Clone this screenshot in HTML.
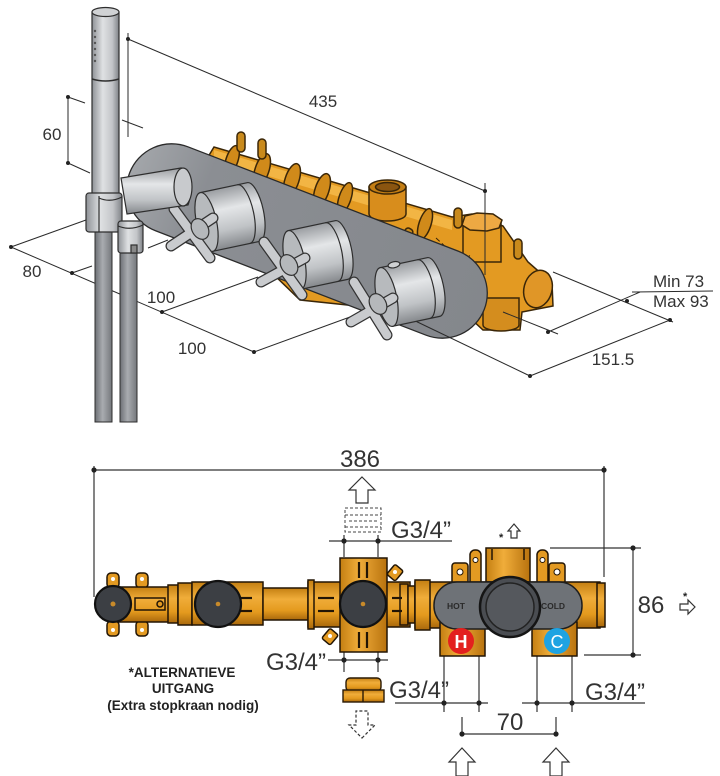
<!DOCTYPE html>
<html><head><meta charset="utf-8"><style>
html,body{margin:0;padding:0;background:#fff;}
svg{display:block;}
text{font-family:"Liberation Sans",Arial,sans-serif;}
</style></head><body>
<svg width="720" height="776" viewBox="0 0 720 776" xmlns="http://www.w3.org/2000/svg">
<defs>
<linearGradient id="chH" x1="0" x2="1" y1="0" y2="0">
<stop offset="0" stop-color="#8e9196"/><stop offset="0.4" stop-color="#dfe1e3"/><stop offset="0.75" stop-color="#c3c5c8"/><stop offset="1" stop-color="#7f8287"/></linearGradient>
<linearGradient id="chV" x1="0" x2="0" y1="0" y2="1">
<stop offset="0" stop-color="#9a9da1"/><stop offset="0.35" stop-color="#e4e6e8"/><stop offset="0.7" stop-color="#c0c3c6"/><stop offset="1" stop-color="#85888c"/></linearGradient>
<linearGradient id="hose" x1="0" x2="1" y1="0" y2="0">
<stop offset="0" stop-color="#6c6f74"/><stop offset="0.45" stop-color="#a9acb0"/><stop offset="1" stop-color="#74777b"/></linearGradient>
<linearGradient id="plate" x1="0" x2="1" y1="0" y2="0">
<stop offset="0" stop-color="#a3a6aa"/><stop offset="0.2" stop-color="#8b8e93"/><stop offset="1" stop-color="#84878c"/></linearGradient>
<linearGradient id="brV" x1="0" x2="0" y1="0" y2="1">
<stop offset="0" stop-color="#c47f12"/><stop offset="0.35" stop-color="#f0ad3a"/><stop offset="0.7" stop-color="#e49a1e"/><stop offset="1" stop-color="#a9680c"/></linearGradient>
<linearGradient id="brH" x1="0" x2="1" y1="0" y2="0">
<stop offset="0" stop-color="#c47f12"/><stop offset="0.4" stop-color="#f0ad3a"/><stop offset="1" stop-color="#b8720e"/></linearGradient>
</defs>

<!-- ============ TOP DRAWING ============ -->
<g stroke="#2a2a2a" stroke-width="1" fill="none">
<line x1="68" y1="97" x2="68" y2="163"/>
<line x1="68" y1="97" x2="85" y2="103"/>
<line x1="68" y1="163" x2="90" y2="173"/>
<line x1="11" y1="247" x2="254" y2="352"/>
<line x1="11" y1="247" x2="86" y2="220"/>
<line x1="72" y1="273" x2="92" y2="266"/>
<line x1="162" y1="312" x2="258" y2="277"/>
<line x1="254" y1="352" x2="350" y2="317"/>
<line x1="148" y1="248" x2="168" y2="240"/>
<line x1="530" y1="376" x2="670" y2="320"/>
<line x1="553" y1="272" x2="673" y2="322"/>
<line x1="548" y1="332" x2="640" y2="292"/>
<line x1="632" y1="292" x2="713" y2="291"/>
</g>
<g fill="#222">
<circle cx="68" cy="97" r="2"/><circle cx="68" cy="163" r="2"/>
<circle cx="11" cy="247" r="2"/><circle cx="72" cy="273" r="2"/><circle cx="162" cy="312" r="2"/><circle cx="254" cy="352" r="2"/>
<circle cx="530" cy="376" r="2"/><circle cx="670" cy="320" r="2"/><circle cx="548" cy="332" r="2"/><circle cx="627" cy="301" r="2"/>
</g>

<!-- brass body behind plate -->
<g stroke="#3a2608" stroke-width="1.5">
<path d="M205,162 L214,147 L452,217 L472,214 L503,226 L528,262 L552,283 L553,306 L522,312 L520,330 L483,330 L470,318 L300,300 L205,208 Z" fill="#e39a22"/>
<path d="M214,150 L452,220 L452,230 L214,160 Z" fill="#f2b544" stroke="none"/>
<g fill="#d08a1a">
<ellipse cx="232" cy="160" rx="6" ry="15" transform="rotate(18 232 160)"/>
<ellipse cx="262" cy="170" rx="7" ry="17" transform="rotate(18 262 170)"/>
<ellipse cx="292" cy="180" rx="7" ry="17" transform="rotate(18 292 180)"/>
<ellipse cx="322" cy="190" rx="7" ry="17" transform="rotate(18 322 190)"/>
<ellipse cx="345" cy="198" rx="6" ry="16" transform="rotate(18 345 198)"/>
<ellipse cx="425" cy="224" rx="6" ry="16" transform="rotate(18 425 224)"/>
</g>
<rect x="237" y="132" width="8" height="20" rx="4" fill="#c98a1c"/>
<rect x="258" y="139" width="8" height="20" rx="4" fill="#c98a1c"/>
<rect x="454" y="208" width="8" height="20" rx="4" fill="#c98a1c"/>
<rect x="514" y="239" width="8" height="20" rx="4" fill="#c98a1c"/>
<rect x="403" y="228" width="8" height="15" rx="3" fill="#c98a1c" transform="rotate(30 407 235)"/>
<rect x="420" y="240" width="8" height="18" rx="4" fill="#c98a1c"/>
<path d="M369,187 L369,214 A18.5,7 0 0 0 406,214 L406,187 Z" fill="#d88d1c"/>
<ellipse cx="387.5" cy="187" rx="18.5" ry="7" fill="#c47e14"/>
<ellipse cx="387.5" cy="187" rx="12" ry="4.5" fill="#8a5510"/>
<path d="M463,222 L463,262 L501,262 L501,222 Z" fill="#e39a22"/>
<path d="M465,216 L477,213 L493,214 L502,220 L499,228 L487,231 L470,230 L462,225 Z" fill="#eda943"/>
<ellipse cx="538" cy="289" rx="14" ry="19" fill="#e09627" transform="rotate(15 538 289)"/>
<path d="M483,298 L483,325 A18,6 0 0 0 519,325 L519,298 Z" fill="#d48d1e"/>
</g>
<g stroke="#3a2608" stroke-width="1" stroke-dasharray="5,3" fill="none">
<line x1="430" y1="246" x2="470" y2="256"/><line x1="436" y1="238" x2="462" y2="262"/>
</g>
<line x1="503" y1="312" x2="558" y2="334" stroke="#2a2a2a" stroke-width="1"/>

<!-- plate -->
<g transform="translate(307,241) rotate(21.1)">
<rect x="-190" y="-45" width="380" height="90" rx="45" fill="url(#plate)" stroke="#2a2a2a" stroke-width="1.3"/>
</g>
<line x1="407" y1="317" x2="530" y2="376" stroke="#2a2a2a" stroke-width="1"/>

<!-- 435 dim -->
<g stroke="#2a2a2a" stroke-width="1" fill="none">
<line x1="128" y1="39" x2="485" y2="191"/>
<line x1="128" y1="33" x2="128" y2="137"/>
<line x1="485" y1="183" x2="485" y2="275"/>
<line x1="122" y1="120" x2="143" y2="128"/>
</g>
<circle cx="128" cy="39" r="2" fill="#222"/><circle cx="485" cy="191" r="2" fill="#222"/>

<!-- knobs -->
<g stroke="#2e2e2e" stroke-width="1.2">
<g transform="translate(230,217) rotate(-12)">
<path d="M-24,-30 L24,-30 A10,30 0 0 1 24,30 L-24,30 Z" fill="url(#chV)"/>
<path d="M14,-30 A10,30 0 0 1 14,30" fill="none"/>
<ellipse cx="-24" cy="0" rx="10" ry="30" fill="#b7babd"/>
</g>
<g transform="translate(318,255) rotate(-12)">
<path d="M-24,-30 L24,-30 A10,30 0 0 1 24,30 L-24,30 Z" fill="url(#chV)"/>
<path d="M14,-30 A10,30 0 0 1 14,30" fill="none"/>
<ellipse cx="-24" cy="0" rx="10" ry="30" fill="#b7babd"/>
</g>
<g transform="translate(410,292) rotate(-12)">
<path d="M-24,-30 L24,-30 A10,30 0 0 1 24,30 L-24,30 Z" fill="url(#chV)"/>
<path d="M14,-30 A10,30 0 0 1 14,30" fill="none"/>
<ellipse cx="-24" cy="0" rx="10" ry="30" fill="#b7babd"/>
<ellipse cx="-10" cy="-30" rx="6" ry="3" fill="#cfd1d3"/>
</g>
</g>
<g stroke-linecap="round">
<g stroke="#333" stroke-width="11">
<line x1="174" y1="209" x2="210" y2="258"/><line x1="171" y1="246" x2="213" y2="218"/>
<line x1="264" y1="242" x2="302" y2="295"/><line x1="261" y1="282" x2="305" y2="258"/>
<line x1="354" y1="282" x2="387" y2="335"/><line x1="351" y1="322" x2="393" y2="298"/>
</g>
<g stroke="#c9cbce" stroke-width="8.5">
<line x1="174" y1="209" x2="210" y2="258"/><line x1="171" y1="246" x2="213" y2="218"/>
<line x1="264" y1="242" x2="302" y2="295"/><line x1="261" y1="282" x2="305" y2="258"/>
<line x1="354" y1="282" x2="387" y2="335"/><line x1="351" y1="322" x2="393" y2="298"/>
</g>
</g>
<g stroke="#333" stroke-width="1.2" fill="#b5b8bb">
<ellipse cx="200" cy="229" rx="8" ry="11" transform="rotate(-30 200 229)"/>
<ellipse cx="289" cy="265" rx="8" ry="11" transform="rotate(-30 289 265)"/>
<ellipse cx="378" cy="304" rx="8" ry="11" transform="rotate(-30 378 304)"/>
</g>

<!-- arm -->
<g stroke="#2e2e2e" stroke-width="1.2">
<path d="M121,178 L181,168 A9,22 0 0 1 188,205 L127,214 Z" fill="url(#chV)"/>
<ellipse cx="183" cy="187" rx="9" ry="19" fill="#c8cacd"/>
</g>

<!-- hoses -->
<g stroke="#2e2e2e" stroke-width="1">
<rect x="95" y="226" width="17" height="196" fill="url(#hose)"/>
<rect x="120" y="250" width="17" height="172" fill="url(#hose)"/>
</g>

<!-- hand shower -->
<g stroke="#2e2e2e" stroke-width="1.2">
<rect x="92" y="12" width="27" height="186" fill="url(#chH)"/>
<ellipse cx="105.5" cy="12" rx="13.5" ry="4.5" fill="#d0d2d4"/>
<path d="M92,79 Q105.5,83 119,79" fill="none" stroke-width="1.6"/>
</g>
<g fill="#555">
<circle cx="95" cy="31" r="1.2"/><circle cx="95" cy="37" r="1.2"/><circle cx="95" cy="43" r="1.2"/><circle cx="95" cy="49" r="1.2"/><circle cx="95" cy="55" r="1.2"/><circle cx="95" cy="61" r="1.2"/>
</g>
<g stroke="#2e2e2e" stroke-width="1.2">
<rect x="86" y="193" width="36" height="39" rx="3" fill="url(#chH)"/>
<line x1="99" y1="196" x2="99" y2="232"/>
<path d="M99,198 Q110,203 122,197" fill="none"/>
<rect x="118" y="221" width="25" height="32" rx="3" fill="url(#chH)"/>
<path d="M118,226 Q130,231 143,225" fill="none"/>
<rect x="131" y="245" width="6" height="8" fill="#888"/>
</g>

<!-- top labels -->
<g font-size="17" fill="#333" text-anchor="middle">
<text x="323" y="107">435</text>
<text x="52" y="140">60</text>
<text x="32" y="277">80</text>
<text x="161" y="303">100</text>
<text x="192" y="354">100</text>
<text x="613" y="365">151.5</text>
<text x="653" y="287" text-anchor="start">Min 73</text>
<text x="653" y="307" text-anchor="start">Max 93</text>
</g>

<!-- ============ BOTTOM DRAWING ============ -->
<g stroke="#333" stroke-width="1.2" fill="none">
<line x1="94" y1="470" x2="604" y2="470"/>
<line x1="94" y1="466" x2="94" y2="597"/>
<line x1="604" y1="466" x2="604" y2="577"/>
<line x1="329" y1="541" x2="452" y2="541"/>
<line x1="344" y1="535" x2="344" y2="557"/><line x1="378" y1="535" x2="378" y2="557"/>
<line x1="328" y1="660" x2="388" y2="660"/>
<line x1="344" y1="652" x2="344" y2="672"/><line x1="378" y1="652" x2="378" y2="672"/>
<line x1="395" y1="703" x2="488" y2="703"/>
<line x1="444" y1="656" x2="444" y2="712"/><line x1="479" y1="656" x2="479" y2="712"/>
<line x1="522" y1="703" x2="645" y2="703"/>
<line x1="537" y1="656" x2="537" y2="712"/><line x1="572" y1="656" x2="572" y2="712"/>
<line x1="633" y1="548" x2="633" y2="655"/>
<line x1="550" y1="548" x2="641" y2="548"/><line x1="584" y1="655" x2="641" y2="655"/>
<line x1="462" y1="734" x2="556" y2="734"/>
<line x1="462" y1="717" x2="462" y2="734"/><line x1="556" y1="717" x2="556" y2="734"/>
</g>
<g fill="#222">
<circle cx="94" cy="470" r="2.6"/><circle cx="604" cy="470" r="2.6"/>
<circle cx="344" cy="541" r="2.6"/><circle cx="378" cy="541" r="2.6"/>
<circle cx="344" cy="660" r="2.6"/><circle cx="378" cy="660" r="2.6"/>
<circle cx="444" cy="703" r="2.6"/><circle cx="479" cy="703" r="2.6"/>
<circle cx="537" cy="703" r="2.6"/><circle cx="572" cy="703" r="2.6"/>
<circle cx="633" cy="548" r="2.6"/><circle cx="633" cy="655" r="2.6"/>
<circle cx="462" cy="734" r="2.6"/><circle cx="556" cy="734" r="2.6"/>
</g>

<g fill="#fff" stroke="#333" stroke-width="1.2">
<path d="M362,477 L375,490 L368,490 L368,503 L356,503 L356,490 L349,490 Z"/>
<path d="M462,748 L475,762 L468,762 L468,776 L456,776 L456,762 L449,762 Z"/>
<path d="M556,748 L569,762 L562,762 L562,776 L550,776 L550,762 L543,762 Z"/>
<path d="M514,524 L520,531 L517,531 L517,538 L511,538 L511,531 L508,531 Z"/>
<path d="M695,607 L688,614 L688,610 L680,610 L680,604 L688,604 L688,600 Z"/>
</g>
<path d="M362,738 L375,725 L368,725 L368,711 L356,711 L356,725 L349,725 Z" fill="none" stroke="#333" stroke-width="1.2" stroke-dasharray="3,2"/>
<g font-size="11" fill="#222" font-weight="bold"><text x="499" y="541">*</text><text x="683" y="600">*</text></g>

<g fill="none" stroke="#444" stroke-width="1" stroke-dasharray="3,2">
<rect x="345" y="508" width="36" height="24"/>
<line x1="345" y1="515" x2="381" y2="515"/>
<line x1="349" y1="521" x2="377" y2="521"/>
<line x1="345" y1="527" x2="381" y2="527"/>
</g>

<g stroke="#2a1a05" stroke-width="1.4">
<rect x="346" y="678" width="35" height="13" rx="4" fill="url(#brV)"/>
<rect x="343" y="690" width="41" height="12" fill="url(#brV)"/>
<line x1="363" y1="690" x2="363" y2="702"/>
</g>

<!-- left assembly -->
<g stroke="#221505" stroke-width="1.5">
<rect x="107" y="573" width="12" height="15" rx="4" fill="#e39a22"/>
<rect x="136" y="573" width="12" height="15" rx="4" fill="#e39a22"/>
<rect x="107" y="621" width="12" height="15" rx="4" fill="#e39a22"/>
<rect x="136" y="621" width="12" height="15" rx="4" fill="#e39a22"/>
<rect x="118" y="587" width="52" height="35" fill="url(#brV)"/>
<rect x="135" y="598" width="30" height="12" fill="none"/>
<circle cx="160" cy="604" r="3" fill="#e39a22"/>
<rect x="168" y="585" width="10" height="38" fill="url(#brV)"/>
<rect x="178" y="583" width="14" height="42" fill="url(#brV)"/>
<rect x="192" y="582" width="71" height="43" fill="url(#brV)"/>
<rect x="263" y="588" width="47" height="32" fill="url(#brV)"/>
<rect x="308" y="582" width="102" height="45" fill="url(#brV)"/>
<rect x="308" y="580" width="6" height="49" fill="url(#brV)"/>
<rect x="400" y="584" width="8" height="41" fill="url(#brV)"/>
<rect x="408" y="586" width="7" height="37" fill="url(#brV)"/>
<rect x="340" y="558" width="47" height="94" fill="url(#brH)"/>
</g>
<g stroke="#221505" stroke-width="2.2">
<line x1="196" y1="598" x2="208" y2="598"/><line x1="196" y1="611" x2="208" y2="611"/>
<line x1="238" y1="598" x2="252" y2="598"/><line x1="238" y1="611" x2="252" y2="611"/>
<line x1="318" y1="598" x2="334" y2="598"/><line x1="318" y1="611" x2="334" y2="611"/>
<line x1="392" y1="598" x2="402" y2="598"/><line x1="392" y1="611" x2="402" y2="611"/>
<line x1="359" y1="562" x2="359" y2="578"/><line x1="367" y1="562" x2="367" y2="578"/>
<line x1="359" y1="632" x2="359" y2="648"/><line x1="367" y1="632" x2="367" y2="648"/>
</g>
<g stroke="#221505" stroke-width="1.5" fill="#e39a22">
<rect x="390" y="566" width="11" height="13" rx="2" transform="rotate(40 395 572)"/>
<rect x="325" y="630" width="11" height="13" rx="2" transform="rotate(40 330 636)"/>
</g>
<g fill="#fff"><circle cx="113" cy="579" r="2"/><circle cx="142" cy="579" r="2"/><circle cx="113" cy="630" r="2"/><circle cx="142" cy="630" r="2"/>
<circle cx="395" cy="572" r="2"/><circle cx="330" cy="636" r="2"/></g>
<g stroke="#111" stroke-width="2.2" fill="#3c3f44">
<circle cx="113" cy="604" r="18"/>
<circle cx="218" cy="604" r="23"/>
<circle cx="363" cy="604" r="23"/>
</g>
<g fill="#c88a2a"><circle cx="113" cy="604" r="2.5"/><circle cx="218" cy="604" r="2.3"/><circle cx="363" cy="604" r="2.3"/></g>

<!-- right thermostatic assembly -->
<g stroke="#221505" stroke-width="1.5">
<rect x="470" y="550" width="11" height="36" rx="5" fill="#e39a22"/>
<rect x="537" y="550" width="11" height="36" rx="5" fill="#e39a22"/>
<rect x="452" y="563" width="16" height="24" rx="3" fill="#e39a22"/>
<rect x="549" y="563" width="16" height="24" rx="3" fill="#e39a22"/>
<rect x="486" y="548" width="44" height="34" fill="url(#brH)"/>
<rect x="415" y="582" width="185" height="46" fill="url(#brV)"/>
<rect x="415" y="580" width="15" height="50" fill="url(#brV)"/>
<rect x="597" y="583" width="8" height="44" fill="url(#brV)"/>
<rect x="440" y="622" width="45" height="34" fill="url(#brH)"/>
<rect x="532" y="622" width="45" height="34" fill="url(#brH)"/>
</g>
<g stroke="#221505" stroke-width="1.5">
<line x1="492" y1="549" x2="492" y2="560"/><line x1="524" y1="549" x2="524" y2="560"/>
</g>
<g fill="#fff" stroke="#221505" stroke-width="1"><circle cx="475.5" cy="560" r="2.5"/><circle cx="542.5" cy="560" r="2.5"/><circle cx="460" cy="572" r="3"/><circle cx="557" cy="572" r="3"/></g>
<rect x="434" y="582" width="148" height="47" rx="23" fill="#6e7277" stroke="#1e1e1e" stroke-width="1.5"/>
<g font-size="8.5" font-weight="bold" fill="#2a2a2a" text-anchor="middle">
<text x="456" y="609">HOT</text><text x="553" y="609">COLD</text></g>
<circle cx="510" cy="607" r="30" fill="#4a4d52" stroke="#151515" stroke-width="2.5"/>
<circle cx="510" cy="607" r="24" fill="#55585d" stroke="#222" stroke-width="1.5"/>
<circle cx="461" cy="641" r="13" fill="#e3201e"/>
<circle cx="557" cy="641" r="13" fill="#1ea3e2"/>
<g font-size="18" fill="#fff" text-anchor="middle"><text x="461" y="648" font-weight="bold">H</text><text x="557" y="648">C</text></g>

<g font-size="24" fill="#333">
<text x="360" y="467" text-anchor="middle">386</text>
<text x="391" y="538">G3/4”</text>
<text x="266" y="670">G3/4”</text>
<text x="389" y="698">G3/4”</text>
<text x="585" y="700">G3/4”</text>
<text x="651" y="613" text-anchor="middle">86</text>
<text x="510" y="730" text-anchor="middle">70</text>
</g>
<g font-size="13.5" font-weight="bold" fill="#222" text-anchor="middle">
<text x="182" y="677">*ALTERNATIEVE</text>
<text x="183" y="693">UITGANG</text>
<text x="183" y="710">(Extra stopkraan nodig)</text>
</g>
</svg>
</body></html>
